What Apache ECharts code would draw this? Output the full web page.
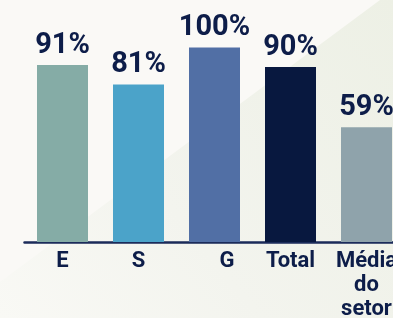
<!DOCTYPE html>
<html>
<head>
<meta charset="utf-8">
<script src="https://cdn.jsdelivr.net/npm/echarts@6/dist/echarts.min.js"></script>
<style>
  html, body { margin: 0; padding: 0; background: #faf9f6; }
  #chart { width: 393px; height: 318px; }
</style>
</head>
<body>
<div id="chart"></div>
<script>
var categories = ['E', 'S', 'G', 'Total', 'Média\ndo\nsetor'];
var values = [91, 81, 100, 90, 59];
var barColors = ['#85aca6', '#4ba3c9', '#516fa5', '#08183f', '#8fa3ab'];

var textColor = '#0d1d49';
var chart = echarts.init(document.getElementById('chart'));

var option = {
    backgroundColor: '#faf9f6',
    animation: false,
    graphic: [{
        type: 'polygon',
        z: -10,
        silent: true,
        shape: {
            points: [[0, 282], [380, 0], [393, 0], [393, 318], [0, 318]]
        },
        style: {
            fill: new echarts.graphic.LinearGradient(1, 0, 0, 1, [
                { offset: 0, color: '#edf0e5' },
                { offset: 0.6, color: '#f3f4ee' },
                { offset: 1, color: '#f9f9f5' }
            ])
        }
    }],
    grid: {
        left: 24.5,
        width: 380,
        top: 47.5,
        bottom: 76,
        containLabel: false,
        outerBoundsMode: 'none'
    },
    xAxis: {
        type: 'category',
        data: categories,
        axisLine: { lineStyle: { color: '#1b2b5a', width: 2.5 } },
        axisTick: { show: false },
        axisLabel: {
            color: textColor,
            fontFamily: 'Roboto',
            fontWeight: 'bold',
            fontSize: 22,
            lineHeight: 24,
            margin: 7,
            interval: 0,
            // in the original the G label sits a little right of its bar
            formatter: function (v) {
                return v === 'G' ? '{g|G}' : v;
            },
            rich: {
                g: {
                    color: textColor,
                    fontFamily: 'Roboto',
                    fontWeight: 'bold',
                    fontSize: 22,
                    lineHeight: 24,
                    padding: [0, 0, 0, 25]
                }
            }
        }
    },
    yAxis: {
        type: 'value',
        min: 0,
        max: 100,
        show: false
    },
    series: [{
        type: 'bar',
        barWidth: 51,
        data: values.map(function (v, i) {
            return { value: v, itemStyle: { color: barColors[i] } };
        }),
        label: {
            show: true,
            position: 'top',
            distance: 5,
            formatter: '{c}%',
            color: textColor,
            fontFamily: 'Roboto',
            fontWeight: 'bold',
            fontSize: 29
        }
    }]
};

chart.setOption(option);
</script>
</body>
</html>
